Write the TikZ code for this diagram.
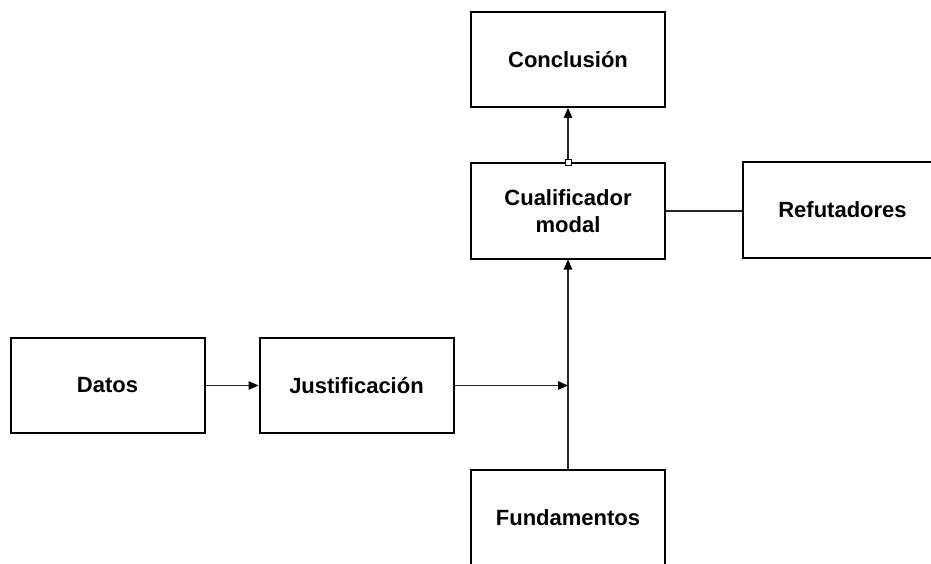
\documentclass[tikz,border=0pt]{standalone}
\usepackage{fontspec}
\setmainfont{Liberation Sans}
\usetikzlibrary{arrows.meta}
\begin{document}
\begin{tikzpicture}[x=1pt,y=-1pt,
  block/.style={draw=black, line width=2pt, minimum width=194pt, minimum height=95pt,
    inner sep=0pt, align=center, font=\bfseries\fontsize{22}{27}\selectfont},
  link/.style={draw=black!85, line width=1.2pt},
  arr/.style={link, -{Triangle[length=10pt,width=8.5pt,color=black]}},
  knob/.style={draw=black, fill=white, line width=0.8pt, minimum size=6pt, inner sep=0pt}]
  \useasboundingbox (0,0) rectangle (931,564);
  \clip (0,0) rectangle (931,564);

  % boxes of the argument scheme
  \node[block] (concl) at (568,59.5)  {Conclusión};
  \node[block] (qual)  at (568,211)   {Cualificador\\modal};
  \node[block, minimum width=199pt] (refut) at (842.5,210) {Refutadores};
  \node[block] (datos) at (107.5,385.5) {Datos};
  \node[block] (just)  at (356.5,385.5) {Justificación};
  \node[block] (fund)  at (568,517.5) {Fundamentos};

  % junction where the warrant meets the backing line
  \coordinate (join) at (fund.north |- just.east);

  % connectors
  \draw[arr] (datos.east) -- (just.west);
  \draw[arr] (just.east) -- (join);
  \draw[arr] (fund.north) -- (qual.south);
  \draw[link] (qual.east) -- (refut.west |- qual.east);
  \node[knob] (tab) at (qual.north) {};
  \draw[arr] (tab.north) -- (concl.south);
\end{tikzpicture}
\end{document}
